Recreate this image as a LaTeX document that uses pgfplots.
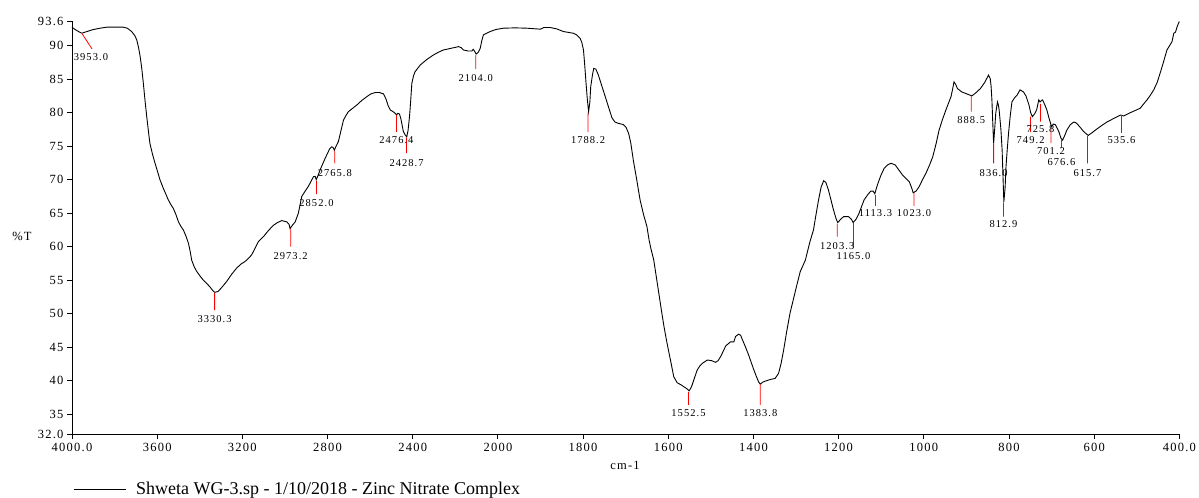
\documentclass[border=0pt]{standalone}
\usepackage{fontspec}
\setmainfont{Liberation Serif}
\newfontfamily\spfont[LetterSpace=10]{Liberation Serif}
\usepackage{pgfplots}
\usepackage{pgfplotstable}
\pgfplotsset{compat=1.18}

\pgfplotstableread{
w T
4000 92.75
3990 92.5
3975 92.2
3954 91.85
3935 92.05
3900 92.4
3868 92.6
3837 92.75
3800 92.75
3759 92.75
3740 92.6
3720 92.1
3705 91.5
3696 90.85
3688 89.8
3680 88.4
3672 86.5
3665 84.4
3657 81.8
3649 79.4
3641 77.2
3634 75.4
3622 73.8
3610 72.45
3598 71.2
3587 70.0
3571 68.7
3560 67.9
3548 67.0
3536 66.3
3524 65.7
3512 64.8
3500 63.7
3488 63.0
3477 62.5
3465 61.6
3453 60.5
3445 59.3
3438 58.0
3426 57.0
3414 56.3
3398 55.6
3383 55.0
3367 54.5
3352 54.0
3340 53.5
3331 53.2
3315 53.3
3300 53.8
3287 54.3
3274 54.8
3250 55.9
3227 56.8
3207 57.4
3187 57.8
3170 58.3
3156 58.8
3140 59.8
3125 60.75
3101 61.5
3078 62.4
3054 63.2
3035 63.6
3015 63.9
2991 63.7
2980 63.3
2976 62.7
2965 63.2
2952 63.7
2937 65.0
2921 67.5
2905 68.3
2890 69.0
2866 70.45
2858 70.5
2853 70.0
2845 70.6
2835 71.45
2811 73.2
2790 74.6
2780 74.9
2774 74.8
2768 74.4
2760 75.0
2749 75.7
2737 77.3
2725 78.9
2713 79.6
2702 80.15
2680 80.7
2662 81.15
2640 81.8
2615 82.4
2596 82.8
2576 83.0
2556 83.0
2537 82.8
2525 82.0
2515 81.0
2505 80.4
2490 80.1
2482 79.9
2476 79.65
2470 79.9
2462 79.8
2455 79.0
2444 77.2
2436 76.7
2428 76.4
2422 77.3
2415 79.4
2410 81.5
2404 84.4
2396 85.5
2389 86.1
2377 86.6
2365 87.1
2335 87.9
2303 88.6
2280 89.0
2256 89.35
2220 89.6
2185 89.85
2172 89.7
2162 89.35
2140 89.2
2122 89.2
2116 89.45
2110 89.2
2102 88.75
2092 89.0
2083 89.6
2075 90.8
2068 91.6
2050 91.9
2036 92.1
2010 92.4
1987 92.6
1960 92.65
1932 92.6
1910 92.5
1900 92.45
1892 92.7
1877 92.7
1862 92.5
1846 92.1
1823 91.85
1815 91.6
1807 91.1
1803 90.5
1799 89.35
1796 87.0
1793 84.4
1790 82.0
1787 80.15
1784 81.6
1782 83.9
1778 85.6
1775 86.6
1770 86.5
1764 85.6
1756 84.0
1748 82.4
1740 80.8
1732 79.2
1725 78.6
1717 78.4
1710 78.3
1705 78.2
1699 77.8
1693 76.9
1688 75.5
1682 72.9
1674 70.0
1666 66.95
1658 64.8
1650 63.0
1645 61.0
1641 59.8
1634 58.0
1628 55.5
1622 53.0
1616 50.5
1610 48.1
1604 46.0
1598 44.1
1592 42.2
1587 40.6
1579 39.7
1570 39.4
1563 39.1
1556 38.8
1551 38.5
1547 38.9
1544 39.35
1538 40.5
1532 41.6
1526 42.2
1520 42.6
1508 43.1
1498 43.0
1489 42.75
1483 43.0
1477 43.6
1471 44.4
1465 45.2
1454 45.8
1446 45.8
1442 46.6
1435 46.95
1430 46.8
1427 46.3
1419 45.1
1411 43.8
1400 41.8
1394 40.8
1388 39.85
1384 39.5
1378 39.8
1372 39.95
1360 40.2
1349 40.35
1341 41.1
1335 42.6
1329 44.6
1322 47.3
1314 50.1
1306 52.2
1298 54.3
1290 56.3
1278 58.0
1271 59.8
1267 60.8
1259 62.5
1253 64.8
1247 67.0
1241 68.9
1235 69.85
1230 69.6
1224 68.5
1218 67.0
1212 65.5
1206 64.2
1202 63.6
1195 64.1
1188 64.5
1177 64.5
1170 64.1
1166 63.6
1159 64.1
1152 65.0
1140 67.0
1130 67.9
1124 68.3
1119 68.3
1115 67.9
1109 69.2
1101 70.6
1093 71.7
1085 72.2
1077 72.45
1067 72.2
1058 71.4
1050 70.7
1042 70.2
1034 69.7
1028 68.7
1025 68.05
1018 68.3
1011 68.95
1003 70.0
995 70.95
987 72.1
979 73.4
971 75.4
964 77.4
956 79.0
948 80.4
942 81.4
936 82.4
932 83.6
929 84.6
925 84.2
921 83.6
911 83.1
899 82.8
887 82.5
877 83.0
867 83.6
857 84.5
848 85.6
844 85.1
842 84.0
840 81.9
838 78.5
836 75.4
833 78.0
831 79.9
827 81.6
825 81.2
823 80.4
819 77.6
816 74.4
814 70.5
812 66.7
809 68.8
807 71.9
804 74.5
801 76.9
797 79.5
793 81.6
787 82.2
781 82.6
774 83.4
766 83.1
760 82.5
753 81.15
749 80.0
745 79.4
740 79.8
735 80.4
730 81.9
727 81.6
724 81.8
721 81.9
716 81.2
711 80.4
706 79.2
700 77.9
696 78.3
691 78.2
683 77.2
678 76.2
674 75.9
669 76.6
664 77.4
656 78.2
648 78.6
643 78.5
638 78.2
630 77.6
625 77.2
614 76.6
605 77.0
597 77.4
584 78.0
570 78.6
555 79.1
538 79.65
531 79.5
515 80.0
492 80.65
476 81.9
468 82.6
460 83.4
452 84.5
444 86.1
436 87.8
429 89.35
417 90.6
413 91.85
409 92.0
405 92.85
400 93.6
}\spectrum

\pgfplotstableread{
w y
3953 91.8
3906 89.5
nan nan
3330.3 53.1
3330.3 50.55
nan nan
2973.2 62.65
2973.2 60.0
nan nan
2852.0 69.8
2852.0 67.85
nan nan
2765.8 74.3
2765.8 72.45
nan nan
2476.4 79.65
2476.4 77.15
nan nan
2428.7 76.3
2428.7 73.95
nan nan
2104.0 88.6
2104.0 86.5
nan nan
1788.2 80.0
1788.2 77.1
nan nan
1552.5 38.35
1552.5 36.4
nan nan
1383.8 39.5
1383.8 36.4
nan nan
1203.3 63.4
1203.3 61.5
nan nan
1165.0 63.6
1165.0 59.9
nan nan
1113.3 67.7
1113.3 66.1
nan nan
1023.0 68.0
1023.0 66.1
nan nan
888.5 82.5
888.5 80.15
nan nan
836.0 75.3
836.0 72.45
nan nan
812.9 66.6
812.9 64.5
nan nan
749.2 79.4
749.2 77.1
nan nan
725.8 81.3
725.8 78.65
nan nan
701.2 77.7
701.2 75.45
nan nan
676.6 75.9
676.6 74.7
nan nan
615.7 76.5
615.7 72.45
nan nan
535.6 79.65
535.6 77.0
}\peaklines

\pgfplotstableread{
w y lbl
3911 88.3 3953.0
3330.3 49.2 3330.3
2973.2 58.65 2973.2
2852.0 66.55 2852.0
2765.8 71.05 2765.8
2476.4 75.9 2476.4
2428.7 72.5 2428.7
2104.0 85.1 2104.0
1788.2 75.9 1788.2
1552.5 35.15 1552.5
1383.8 35.15 1383.8
1203.3 60.1 1203.3
1165.0 58.6 1165.0
1113.3 65.0 1113.3
1023.0 65.0 1023.0
888.5 78.9 888.5
836.0 71.05 836.0
812.9 63.35 812.9
749.2 75.9 749.2
725.8 77.5 725.8
701.2 74.3 701.2
676.6 72.6 676.6
615.7 71.05 615.7
535.6 75.9 535.6
}\peaklabels

\newcommand\xmap{(\thisrow{w}>=2000 ? (4000-\thisrow{w})/400 : 5+(2000-\thisrow{w})/200)}

\begin{document}
\begin{tikzpicture}
\begin{axis}[
  name=ax,
  scale only axis,
  width=1107.3pt, height=412.9pt,
  xmin=0, xmax=13, ymin=32, ymax=93.6,
  axis x line*=bottom, axis y line*=left,
  axis line style={black, line width=0.8pt},
  clip=false,
  xtick={0,1,2,3,4,5,6,7,8,9,10,11,12,13},
  xticklabels={4000.0,3600,3200,2800,2400,2000,1800,1600,1400,1200,1000,800,600,400.0},
  ytick={32,35,40,45,50,55,60,65,70,75,80,85,90,93.6},
  yticklabels={32.0,35,40,45,50,55,60,65,70,75,80,85,90,93.6},
  tick align=outside,
  major tick length=5pt,
  tick style={black, line width=0.8pt},
  tick label style={font=\spfont\fontsize{12.5}{14}\selectfont, text=black},
  /pgf/number format/assume math mode=true,
  legend style={at={(axis description cs:0.0009,-0.1322)}, anchor=west, draw=none, fill=none,
    font=\fontsize{18}{20}\selectfont, inner sep=0pt,
    /tikz/every odd column/.append style={column sep=8pt}},
  legend cell align=left,
  legend image code/.code={\draw[#1] (0pt,0pt) -- (52pt,0pt);},
  unbounded coords=jump,
]
\addplot[black, line width=0.9pt] table[x expr=\xmap, y=T] {\spectrum};
\addlegendentry{Shweta WG-3.sp - 1/10/2018 - Zinc Nitrate Complex}
\addplot[red, line width=0.8pt, forget plot] table[x expr=\xmap, y=y] {\peaklines};
\addplot[draw=none, mark=none, forget plot, nodes near coords, point meta=explicit symbolic,
  nodes near coords style={anchor=center, text=black, inner sep=0pt,
    font=\spfont\fontsize{10.5}{12}\selectfont}]
  table[x expr=\xmap, y=y, meta=lbl] {\peaklabels};
\node[font=\spfont\fontsize{12.5}{14}\selectfont] at (axis description cs:-0.0452,0.4805) {\%T};
\node[font=\spfont\fontsize{12.5}{14}\selectfont] at (axis description cs:0.4994,-0.0741) {cm-1};
\end{axis}
\pgfresetboundingbox
\path ([shift={(-72pt,-62.6pt)}]ax.south west) rectangle ([shift={(19.7pt,21.5pt)}]ax.north east);
\end{tikzpicture}
\end{document}
